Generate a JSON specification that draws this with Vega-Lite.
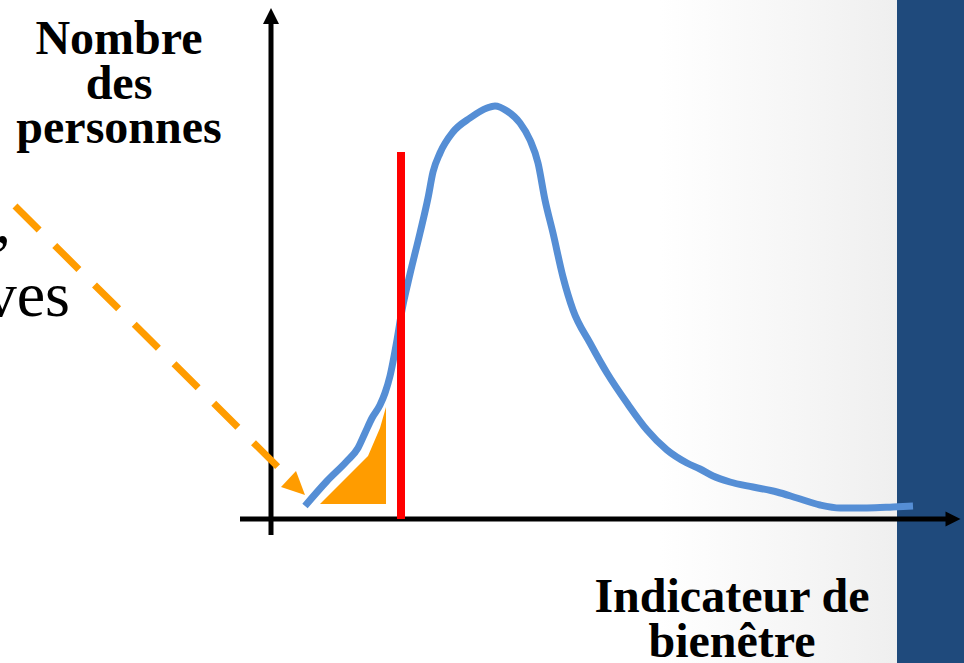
{
  "$schema": "https://vega.github.io/schema/vega-lite/v6.json",
  "width": 964,
  "height": 663,
  "autosize": {"type": "none"},
  "padding": 0,
  "background": "#FFFFFF",
  "config": {"view": {"stroke": null}},
  "datasets": {
    "curve": [
      {"x": 305, "y": 506}, {"x": 327, "y": 481}, {"x": 347, "y": 461}, {"x": 358, "y": 448},
      {"x": 365, "y": 433}, {"x": 372, "y": 418}, {"x": 380, "y": 405}, {"x": 385, "y": 393},
      {"x": 390, "y": 376}, {"x": 397, "y": 340}, {"x": 402, "y": 310}, {"x": 410, "y": 274},
      {"x": 420, "y": 233}, {"x": 428, "y": 198}, {"x": 433, "y": 172}, {"x": 440, "y": 153},
      {"x": 453, "y": 132}, {"x": 470, "y": 118}, {"x": 487, "y": 108}, {"x": 495, "y": 106},
      {"x": 507, "y": 111}, {"x": 520, "y": 123}, {"x": 530, "y": 140}, {"x": 538, "y": 163},
      {"x": 545, "y": 200}, {"x": 553, "y": 233}, {"x": 563, "y": 277}, {"x": 573, "y": 310},
      {"x": 590, "y": 343}, {"x": 607, "y": 373}, {"x": 627, "y": 403}, {"x": 647, "y": 430},
      {"x": 667, "y": 450}, {"x": 687, "y": 463}, {"x": 700, "y": 469}, {"x": 713, "y": 476},
      {"x": 730, "y": 482}, {"x": 753, "y": 487}, {"x": 777, "y": 492}, {"x": 797, "y": 498},
      {"x": 820, "y": 505}, {"x": 840, "y": 508}, {"x": 867, "y": 508}, {"x": 893, "y": 507},
      {"x": 913, "y": 506}
    ],
    "shaded": [
      {"x": 320, "y": 504, "y2": 504},
      {"x": 368, "y": 456, "y2": 504},
      {"x": 380, "y": 428, "y2": 504},
      {"x": 386, "y": 407, "y2": 504}
    ],
    "labels": [
      {"x": 119, "y": 54, "text": ["Nombre", "des", "personnes"]},
      {"x": 732, "y": 612, "text": ["Indicateur de", "bienêtre"]}
    ],
    "sidetext": [
      {"x": 11, "y": 243, "text": ","},
      {"x": 70, "y": 316, "text": "ves"}
    ]
  },
  "encoding": {
    "x": {"type": "quantitative", "scale": {"domain": [0, 964], "nice": false, "zero": false}, "axis": null},
    "y": {"type": "quantitative", "scale": {"domain": [0, 663], "nice": false, "zero": false, "reverse": true}, "axis": null}
  },
  "layer": [
    {
      "data": {"values": [{"x": 660, "x2": 897, "y": 0, "y2": 663}]},
      "mark": {"type": "rect", "color": {"gradient": "linear", "x1": 0, "y1": 0, "x2": 1, "y2": 0, "stops": [{"offset": 0, "color": "#FFFFFF"}, {"offset": 1, "color": "#EFEFEF"}]}},
      "encoding": {"x": {"field": "x", "type": "quantitative"}, "x2": {"field": "x2"}, "y": {"field": "y", "type": "quantitative"}, "y2": {"field": "y2"}}
    },
    {
      "data": {"values": [{"x": 897, "x2": 964, "y": 0, "y2": 663}]},
      "mark": {"type": "rect", "color": "#1F4A7C"},
      "encoding": {"x": {"field": "x", "type": "quantitative"}, "x2": {"field": "x2"}, "y": {"field": "y", "type": "quantitative"}, "y2": {"field": "y2"}}
    },
    {
      "data": {"values": [{"x": 271, "y": 22, "y2": 535}]},
      "mark": {"type": "rule", "color": "#000000", "strokeWidth": 5},
      "encoding": {"x": {"field": "x", "type": "quantitative"}, "y": {"field": "y", "type": "quantitative"}, "y2": {"field": "y2"}}
    },
    {
      "data": {"values": [{"y": 519, "x": 240, "x2": 948}]},
      "mark": {"type": "rule", "color": "#000000", "strokeWidth": 5},
      "encoding": {"y": {"field": "y", "type": "quantitative"}, "x": {"field": "x", "type": "quantitative"}, "x2": {"field": "x2"}}
    },
    {
      "data": {"values": [{"x": 271, "y": 16}]},
      "mark": {"type": "point", "shape": "M0,-1L1,1L-1,1Z", "size": 256, "filled": true, "color": "#000000", "opacity": 1},
      "encoding": {"x": {"field": "x", "type": "quantitative"}, "y": {"field": "y", "type": "quantitative"}}
    },
    {
      "data": {"values": [{"x": 953, "y": 519}]},
      "mark": {"type": "point", "shape": "M1,0L-1,-1L-1,1Z", "size": 225, "filled": true, "color": "#000000", "opacity": 1},
      "encoding": {"x": {"field": "x", "type": "quantitative"}, "y": {"field": "y", "type": "quantitative"}}
    },
    {
      "data": {"name": "shaded"},
      "mark": {"type": "area", "color": "#FF9C00", "opacity": 1},
      "encoding": {"x": {"field": "x", "type": "quantitative"}, "y": {"field": "y", "type": "quantitative"}, "y2": {"field": "y2"}}
    },
    {
      "data": {"name": "curve"},
      "mark": {"type": "line", "color": "#558ED5", "strokeWidth": 7, "interpolate": "monotone"},
      "encoding": {"x": {"field": "x", "type": "quantitative"}, "y": {"field": "y", "type": "quantitative"}}
    },
    {
      "data": {"values": [{"x": 401, "y": 152, "y2": 519}]},
      "mark": {"type": "rule", "color": "#FF0000", "strokeWidth": 8},
      "encoding": {"x": {"field": "x", "type": "quantitative"}, "y": {"field": "y", "type": "quantitative"}, "y2": {"field": "y2"}}
    },
    {
      "data": {"values": [{"x": 15, "y": 206, "x2": 279, "y2": 468}]},
      "mark": {"type": "rule", "color": "#FF9C00", "strokeWidth": 7, "strokeDash": [34, 22]},
      "encoding": {"x": {"field": "x", "type": "quantitative"}, "y": {"field": "y", "type": "quantitative"}, "x2": {"field": "x2"}, "y2": {"field": "y2"}}
    },
    {
      "data": {"values": [{"x": 293, "y": 483}]},
      "mark": {"type": "point", "shape": "M-0.857,0.286L0.214,-0.857L0.857,0.857Z", "size": 784, "filled": true, "color": "#FF9C00", "opacity": 1},
      "encoding": {"x": {"field": "x", "type": "quantitative"}, "y": {"field": "y", "type": "quantitative"}}
    },
    {
      "data": {"name": "labels"},
      "mark": {"type": "text", "font": "Liberation Serif", "fontWeight": "bold", "fontSize": 48, "lineHeight": 44.5, "align": "center", "baseline": "alphabetic", "color": "#000000"},
      "encoding": {"x": {"field": "x", "type": "quantitative"}, "y": {"field": "y", "type": "quantitative"}, "text": {"field": "text", "type": "nominal"}}
    },
    {
      "data": {"name": "sidetext"},
      "mark": {"type": "text", "font": "Liberation Serif", "fontSize": 64, "align": "right", "baseline": "alphabetic", "color": "#000000"},
      "encoding": {"x": {"field": "x", "type": "quantitative"}, "y": {"field": "y", "type": "quantitative"}, "text": {"field": "text", "type": "nominal"}}
    }
  ]
}
